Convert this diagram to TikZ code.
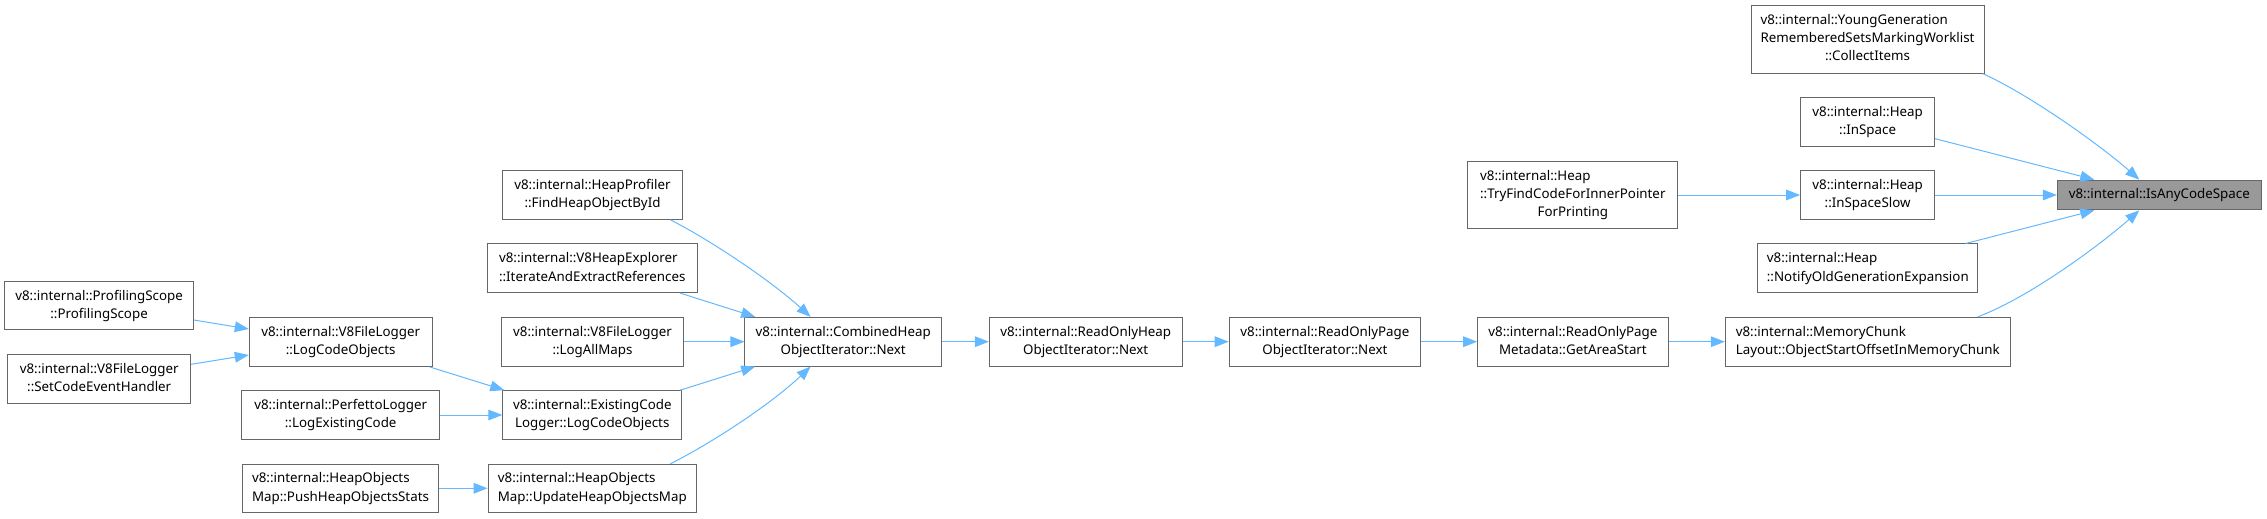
\documentclass[tikz,border=0pt]{standalone}
\usepackage{fontspec}
\setmainfont{Noto Sans}
\usetikzlibrary{arrows.meta}
\definecolor{edgeblue}{HTML}{63B8FF}
\definecolor{boxgrey}{HTML}{666666}
\definecolor{hlfill}{HTML}{999999}
\newcommand{\twol}[2]{\begin{tabular}{@{}l@{}}#1\\\multicolumn{1}{@{}c@{}}{#2}\end{tabular}}
\newcommand{\threel}[3]{\begin{tabular}{@{}l@{}}#1\\#2\\\multicolumn{1}{@{}c@{}}{#3}\end{tabular}}
\begin{document}
\begin{tikzpicture}[x=0.75pt,y=-0.75pt,
  box/.style={draw=boxgrey, line width=0.75pt, fill=white, inner sep=0pt, anchor=center,
    font=\fontsize{10pt}{13.7pt}\selectfont},
  bw/.style={minimum width=#1*0.75pt},
  bh/.style={minimum height=#1*0.75pt},
  hl/.style={fill=hlfill},
  edge/.style={draw=edgeblue, line width=0.75pt, -{Triangle[length=10.5pt,width=8pt]}}]
\useasboundingbox (0,0) rectangle (2267,518);
% right column
\node[box,bw=233,bh=68] (yg) at (1867.5,39) {\threel{v8::internal::YoungGeneration}{RememberedSetsMarkingWorklist}{::CollectItems}};
\node[box,bw=134,bh=48.7] (insp) at (1867.6,121.7) {\twol{v8::internal::Heap}{::InSpace}};
\node[box,bw=134,bh=48.7] (inslow) at (1867.6,195) {\twol{v8::internal::Heap}{::InSpaceSlow}};
\node[box,hl,bw=204,bh=29.7] (isany) at (2159.3,195) {v8::internal::IsAnyCodeSpace};
\node[box,bw=219.7,bh=48.7] (notify) at (1867.8,268.3) {\twol{v8::internal::Heap}{::NotifyOldGenerationExpansion}};
\node[box,bw=285,bh=48.7] (mem) at (1867.8,341.7) {\twol{v8::internal::MemoryChunk}{Layout::ObjectStartOffsetInMemoryChunk}};
\node[box,bw=209.7,bh=67.7] (try) at (1572.8,195) {\threel{v8::internal::Heap}{::TryFindCodeForInnerPointer}{ForPrinting}};
\node[box,bw=190.6,bh=48.7] (meta) at (1572.9,341.7) {\twol{v8::internal::ReadOnlyPage}{Metadata::GetAreaStart}};
\node[box,bw=191.4,bh=48.7] (ropoi) at (1324.9,341.7) {\twol{v8::internal::ReadOnlyPage}{ObjectIterator::Next}};
\node[box,bw=192.7,bh=48.7] (rohoi) at (1085.7,341.7) {\twol{v8::internal::ReadOnlyHeap}{ObjectIterator::Next}};
\node[box,bw=196.5,bh=48.7] (comb) at (843.2,341.7) {\twol{v8::internal::CombinedHeap}{ObjectIterator::Next}};
% middle column
\node[box,bw=179.6,bh=48.7] (hp) at (592.5,195) {\twol{v8::internal::HeapProfiler}{::FindHeapObjectById}};
\node[box,bw=210,bh=48.7] (hexp) at (592.3,268.3) {\twol{v8::internal::V8HeapExplorer}{::IterateAndExtractReferences}};
\node[box,bw=182,bh=48.7] (lam) at (592.5,341.7) {\twol{v8::internal::V8FileLogger}{::LogAllMaps}};
\node[box,bw=179,bh=48.7] (ecl) at (592.3,415) {\twol{v8::internal::ExistingCode}{Logger::LogCodeObjects}};
\node[box,bw=208.5,bh=48] (uhom) at (592.3,488.3) {\twol{v8::internal::HeapObjects}{Map::UpdateHeapObjectsMap}};
% left columns
\node[box,bw=182.8,bh=48.7] (flco) at (340.7,342) {\twol{v8::internal::V8FileLogger}{::LogCodeObjects}};
\node[box,bw=197.5,bh=48.7] (perf) at (340.7,415) {\twol{v8::internal::PerfettoLogger}{::LogExistingCode}};
\node[box,bw=195.2,bh=48] (push) at (340.5,488.3) {\twol{v8::internal::HeapObjects}{Map::PushHeapObjectsStats}};
\node[box,bw=188.3,bh=48.7] (prof) at (99.1,305.6) {\twol{v8::internal::ProfilingScope}{::ProfilingScope}};
\node[box,bw=182.8,bh=48.7] (sceh) at (99.2,379) {\twol{v8::internal::V8FileLogger}{::SetCodeEventHandler}};
% edges into IsAnyCodeSpace
\draw[edge] ([shift={(-2,0)}]yg.south east) .. controls (2030,95) and (2100,145) .. ([shift={(-20,0)}]isany.north);
\draw[edge] ([shift={(0,17)}]insp.east) -- ([shift={(-65,0)}]isany.north);
\draw[edge] (inslow) -- (isany);
\draw[edge] ([shift={(98,0)}]notify.north) -- ([shift={(-65,0)}]isany.south);
\draw[edge] ([shift={(110,0)}]mem.north) .. controls (2030,297) and (2100,245) .. ([shift={(-20,0)}]isany.south);
\draw[edge] (try) -- (inslow);
% main chain
\draw[edge] (meta) -- (mem);
\draw[edge] (ropoi) -- (meta);
\draw[edge] (rohoi) -- (ropoi);
\draw[edge] (comb) -- (rohoi);
% into CombinedHeap
\draw[edge] ([shift={(78,0)}]hp.south) .. controls (710,240) and (770,280) .. ([shift={(-32.6,0)}]comb.north);
\draw[edge] ([shift={(88,0)}]hexp.south) -- ([shift={(-88,0)}]comb.north);
\draw[edge] (lam) -- (comb);
\draw[edge] ([shift={(88,0)}]ecl.north) -- ([shift={(-88,0)}]comb.south);
\draw[edge] ([shift={(78,0)}]uhom.north) .. controls (710,444) and (770,405) .. ([shift={(-32.6,0)}]comb.south);
% left side
\draw[edge] ([shift={(88.7,0)}]flco.south) -- ([shift={(2,0)}]ecl.north west);
\draw[edge] (perf) -- (ecl);
\draw[edge] (push) -- (uhom);
\draw[edge] ([shift={(0,14.4)}]prof.east) -- ([shift={(0,-13)}]flco.west);
\draw[edge] ([shift={(0,-14.7)}]sceh.east) -- ([shift={(0,13)}]flco.west);
\end{tikzpicture}
\end{document}
